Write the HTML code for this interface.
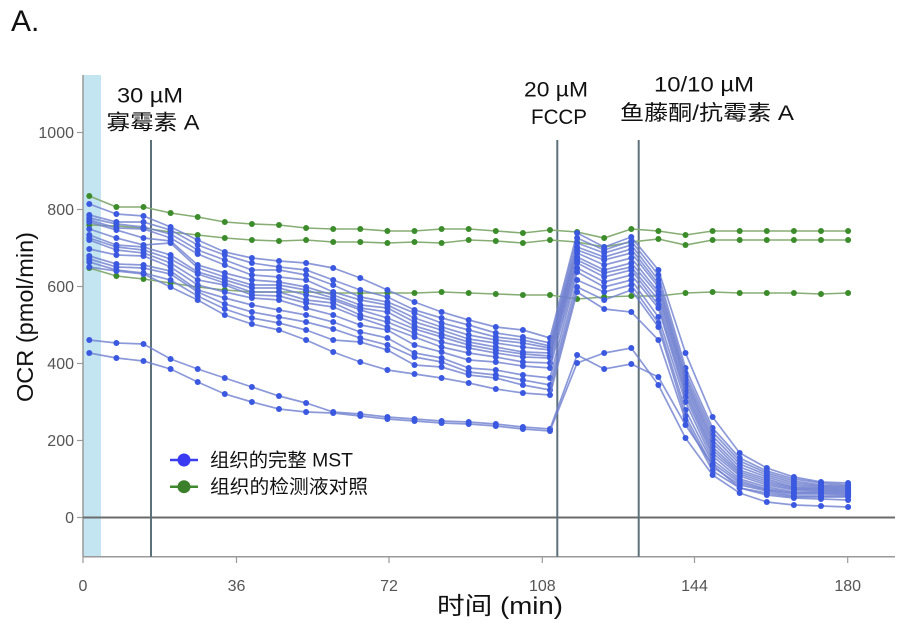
<!DOCTYPE html>
<html>
<head>
<meta charset="utf-8">
<style>
  html,body{margin:0;padding:0;background:#fff;}
  body{width:903px;height:626px;overflow:hidden;}
  svg{display:block;}
  text{font-family:"Liberation Sans","Noto Sans CJK SC",sans-serif;}
</style>
</head>
<body>
<svg width="903" height="626" viewBox="0 0 903 626" xmlns="http://www.w3.org/2000/svg">
  <defs>
    <marker id="mb" markerWidth="8" markerHeight="8" refX="4" refY="4" markerUnits="userSpaceOnUse">
      <circle cx="4" cy="4" r="3" fill="#3a58e0"/>
    </marker>
    <marker id="mg" markerWidth="8" markerHeight="8" refX="4" refY="4" markerUnits="userSpaceOnUse">
      <circle cx="4" cy="4" r="3" fill="#3c8c2c"/>
    </marker>
  </defs>

  <text x="11" y="31" font-size="30" fill="#111">A.</text>

  <rect x="83" y="75" width="18" height="482" fill="#c3e5f2"/>

  <line x1="83" y1="75" x2="83" y2="557" stroke="#9a9a9a" stroke-width="1.5"/>
  <line x1="83" y1="556.7" x2="895" y2="556.7" stroke="#9a9a9a" stroke-width="1.5"/>

  <g stroke="#9a9a9a" stroke-width="1.2">
    <line x1="77" y1="517.5" x2="83" y2="517.5"/>
    <line x1="77" y1="440.5" x2="83" y2="440.5"/>
    <line x1="77" y1="363.5" x2="83" y2="363.5"/>
    <line x1="77" y1="286.5" x2="83" y2="286.5"/>
    <line x1="77" y1="209.5" x2="83" y2="209.5"/>
    <line x1="77" y1="132.5" x2="83" y2="132.5"/>
  </g>
  <g font-size="16" fill="#555" text-anchor="end">
    <text x="74" y="523">0</text>
    <text x="74" y="446">200</text>
    <text x="74" y="369">400</text>
    <text x="74" y="292">600</text>
    <text x="74" y="215">800</text>
    <text x="74" y="138">1000</text>
  </g>

  <g stroke="#9a9a9a" stroke-width="1.2">
    <line x1="83" y1="556.7" x2="83" y2="563"/>
    <line x1="236.5" y1="556.7" x2="236.5" y2="563"/>
    <line x1="389" y1="556.7" x2="389" y2="563"/>
    <line x1="542.3" y1="556.7" x2="542.3" y2="563"/>
    <line x1="694.5" y1="556.7" x2="694.5" y2="563"/>
    <line x1="847.7" y1="556.7" x2="847.7" y2="563"/>
  </g>
  <g font-size="16" fill="#555" text-anchor="middle">
    <text x="83" y="591">0</text>
    <text x="236.5" y="591">36</text>
    <text x="389" y="591">72</text>
    <text x="542.3" y="591">108</text>
    <text x="694.5" y="591">144</text>
    <text x="847.7" y="591">180</text>
  </g>

  <text transform="translate(33,317) rotate(-90)" text-anchor="middle" font-size="23" fill="#111" textLength="170" lengthAdjust="spacingAndGlyphs">OCR (pmol/min)</text>
  <text x="500" y="614" text-anchor="middle" font-size="24" fill="#111" textLength="126" lengthAdjust="spacingAndGlyphs">时间 (min)</text>

  <line x1="83" y1="517.5" x2="895" y2="517.5" stroke="#6b6b6b" stroke-width="2"/>

  <g stroke="#5d717b" stroke-width="2">
    <line x1="151" y1="140" x2="151" y2="556.7"/>
    <line x1="557.3" y1="140" x2="557.3" y2="556.7"/>
    <line x1="638.7" y1="140" x2="638.7" y2="556.7"/>
  </g>

  <g font-size="21" fill="#111" text-anchor="middle">
    <text x="150" y="102.5" textLength="66" lengthAdjust="spacingAndGlyphs">30 µM</text>
    <text x="153" y="129.5" textLength="93" lengthAdjust="spacingAndGlyphs">寡霉素 A</text>
    <text x="556" y="96.5" textLength="64" lengthAdjust="spacingAndGlyphs">20 µM</text>
    <text x="559" y="124" textLength="56" lengthAdjust="spacingAndGlyphs">FCCP</text>
    <text x="704" y="91.5" textLength="100" lengthAdjust="spacingAndGlyphs">10/10 µM</text>
    <text x="707" y="120" textLength="174" lengthAdjust="spacingAndGlyphs">鱼藤酮/抗霉素 A</text>
  </g>

  <g fill="none" stroke="#86ad74" stroke-width="1.6" marker-start="url(#mg)" marker-mid="url(#mg)" marker-end="url(#mg)">
    <polyline points="89.3,196 116.4,207 143.5,207 170.6,213 197.7,217 224.8,222 251.9,224 279,225 306.1,228 333.2,229 360.3,229 387.4,231 414.5,231 441.6,229 468.7,229 495.8,231 522.9,233 550,230 577.1,232 604.2,238 631.3,229 658.4,231 685.5,235 712.6,231 739.7,231 766.8,231 793.9,231 821,231 848.1,231"/>
    <polyline points="89.3,225 116.4,226 143.5,228 170.6,232 197.7,235 224.8,238 251.9,240 279,241 306.1,240 333.2,242 360.3,242 387.4,243 414.5,242 441.6,243 468.7,240 495.8,241 522.9,243 550,240 577.1,242 604.2,247 631.3,242 658.4,239 685.5,245 712.6,240 739.7,240 766.8,240 793.9,240 821,240 848.1,240"/>
    <polyline points="89.3,268 116.4,276 143.5,279 170.6,283 197.7,287 224.8,290 251.9,292 279,292 306.1,292 333.2,293 360.3,293 387.4,293 414.5,293 441.6,292 468.7,293 495.8,294 522.9,295 550,295 577.1,299 604.2,297 631.3,296 658.4,296 685.5,293 712.6,292 739.7,293 766.8,293 793.9,293 821,294 848.1,293"/>
  </g>

  <g fill="none" stroke="#6f7fd0" stroke-opacity="0.8" stroke-width="1.7" marker-start="url(#mb)" marker-mid="url(#mb)" marker-end="url(#mb)">
    <polyline points="89.3,204 116.4,214 143.5,216 170.6,227 197.7,240 224.8,252 251.9,258 279,261 306.1,263 333.2,268 360.3,278 387.4,290 414.5,302 441.6,312 468.7,320 495.8,327 522.9,330 550,338 577.1,233 604.2,247 631.3,237 658.4,270 685.5,353 712.6,417 739.7,453 766.8,468 793.9,477 821,482 848.1,483"/>
    <polyline points="89.3,215 116.4,222 143.5,222 170.6,230 197.7,245 224.8,255 251.9,263 279,267 306.1,270 333.2,280 360.3,290 387.4,297 414.5,310 441.6,318 468.7,325 495.8,333 522.9,337 550,343 577.1,238 604.2,250 631.3,241 658.4,275 685.5,368 712.6,428 739.7,458 766.8,471 793.9,479 821,483 848.1,485"/>
    <polyline points="89.3,218 116.4,224 143.5,227 170.6,234 197.7,250 224.8,260 251.9,270 279,270 306.1,275 333.2,285 360.3,297 387.4,302 414.5,313 441.6,323 468.7,330 495.8,337 522.9,340 550,346 577.1,243 604.2,253 631.3,245 658.4,280 685.5,373 712.6,432 739.7,461 766.8,473 793.9,481 821,485 848.1,486"/>
    <polyline points="89.3,220 116.4,228 143.5,229 170.6,238 197.7,254 224.8,265 251.9,275 279,277 306.1,280 333.2,292 360.3,300 387.4,305 414.5,318 441.6,327 468.7,335 495.8,340 522.9,343 550,348 577.1,247 604.2,257 631.3,249 658.4,284 685.5,377 712.6,436 739.7,464 766.8,475 793.9,483 821,486 848.1,487"/>
    <polyline points="89.3,222 116.4,230 143.5,238 170.6,241 197.7,265 224.8,273 251.9,280 279,282 306.1,287 333.2,295 360.3,305 387.4,308 414.5,322 441.6,330 468.7,339 495.8,343 522.9,347 550,350 577.1,250 604.2,260 631.3,253 658.4,287 685.5,380 712.6,440 739.7,467 766.8,477 793.9,485 821,487 848.1,488"/>
    <polyline points="89.3,229 116.4,238 143.5,245 170.6,243 197.7,268 224.8,277 251.9,285 279,285 306.1,290 333.2,298 360.3,308 387.4,312 414.5,326 441.6,334 468.7,342 495.8,347 522.9,352 550,353 577.1,253 604.2,265 631.3,258 658.4,292 685.5,383 712.6,443 739.7,470 766.8,479 793.9,487 821,488 848.1,489"/>
    <polyline points="89.3,235 116.4,245 143.5,247 170.6,255 197.7,272 224.8,280 251.9,288 279,288 306.1,295 333.2,300 360.3,310 387.4,318 414.5,329 441.6,337 468.7,345 495.8,350 522.9,354 550,356 577.1,257 604.2,270 631.3,263 658.4,295 685.5,386 712.6,447 739.7,472 766.8,481 793.9,488 821,489 848.1,490"/>
    <polyline points="89.3,238 116.4,247 143.5,250 170.6,259 197.7,274 224.8,283 251.9,292 279,292 306.1,300 333.2,303 360.3,315 387.4,322 414.5,333 441.6,342 468.7,348 495.8,353 522.9,357 550,358 577.1,260 604.2,273 631.3,267 658.4,300 685.5,390 712.6,450 739.7,474 766.8,483 793.9,489 821,490 848.1,491"/>
    <polyline points="89.3,240 116.4,250 143.5,253 170.6,263 197.7,280 224.8,285 251.9,295 279,296 306.1,303 333.2,307 360.3,318 387.4,327 414.5,337 441.6,347 468.7,353 495.8,357 522.9,362 550,363 577.1,263 604.2,277 631.3,270 658.4,305 685.5,393 712.6,453 739.7,476 766.8,485 793.9,490 821,491 848.1,492"/>
    <polyline points="89.3,249 116.4,255 143.5,256 170.6,267 197.7,285 224.8,292 251.9,298 279,300 306.1,308 333.2,315 360.3,325 387.4,330 414.5,345 441.6,352 468.7,360 495.8,362 522.9,366 550,368 577.1,268 604.2,282 631.3,275 658.4,308 685.5,397 712.6,456 739.7,479 766.8,487 793.9,492 821,492 848.1,493"/>
    <polyline points="89.3,256 116.4,264 143.5,265 170.6,271 197.7,290 224.8,298 251.9,305 279,310 306.1,315 333.2,322 360.3,332 387.4,338 414.5,353 441.6,358 468.7,368 495.8,370 522.9,375 550,378 577.1,272 604.2,287 631.3,280 658.4,317 685.5,402 712.6,460 739.7,481 766.8,489 793.9,493 821,493 848.1,494"/>
    <polyline points="89.3,259 116.4,267 143.5,268 170.6,274 197.7,292 224.8,304 251.9,312 279,317 306.1,322 333.2,329 360.3,338 387.4,345 414.5,357 441.6,362 468.7,372 495.8,375 522.9,380 550,385 577.1,280 604.2,292 631.3,285 658.4,323 685.5,410 712.6,463 739.7,483 766.8,490 793.9,494 821,494 848.1,495"/>
    <polyline points="89.3,262 116.4,270 143.5,273 170.6,280 197.7,296 224.8,309 251.9,318 279,323 306.1,330 333.2,340 360.3,342 387.4,350 414.5,365 441.6,367 468.7,375 495.8,378 522.9,385 550,390 577.1,287 604.2,300 631.3,290 658.4,327 685.5,416 712.6,467 739.7,485 766.8,491 793.9,496 821,496 848.1,496"/>
    <polyline points="89.3,267 116.4,271 143.5,274 170.6,287 197.7,300 224.8,315 251.9,324 279,330 306.1,340 333.2,352 360.3,362 387.4,370 414.5,374 441.6,378 468.7,383 495.8,389 522.9,393 550,395 577.1,292 604.2,309 631.3,312 658.4,340 685.5,420 712.6,471 739.7,488 766.8,493 793.9,497 821,497 848.1,497"/>
    <polyline points="89.3,340 116.4,343 143.5,344 170.6,359 197.7,369 224.8,378 251.9,387 279,396 306.1,403 333.2,412 360.3,414 387.4,417 414.5,419 441.6,421 468.7,422 495.8,424 522.9,427 550,429 577.1,355 604.2,369 631.3,364 658.4,377 685.5,425 712.6,465 739.7,488 766.8,495 793.9,498 821,499 848.1,500"/>
    <polyline points="89.3,353 116.4,358 143.5,361 170.6,369 197.7,382 224.8,394 251.9,402 279,409 306.1,412 333.2,413 360.3,416 387.4,419 414.5,421 441.6,423 468.7,424 495.8,426 522.9,429 550,431 577.1,363 604.2,353 631.3,348 658.4,385 685.5,438 712.6,475 739.7,493 766.8,502 793.9,505 821,506 848.1,507"/>
  </g>

  <line x1="170" y1="460" x2="198" y2="460" stroke="#3d3df0" stroke-width="2.5"/>
  <circle cx="184" cy="460" r="6.5" fill="#3a3af2"/>
  <text x="210" y="466.5" font-size="19" fill="#111" textLength="143" lengthAdjust="spacingAndGlyphs">组织的完整 MST</text>
  <line x1="170" y1="486.7" x2="198" y2="486.7" stroke="#3f8a2e" stroke-width="2.5"/>
  <circle cx="184" cy="486.7" r="6.5" fill="#3b7f2b"/>
  <text x="210" y="493" font-size="19" fill="#111" textLength="158" lengthAdjust="spacingAndGlyphs">组织的检测液对照</text>
</svg>
</body>
</html>
